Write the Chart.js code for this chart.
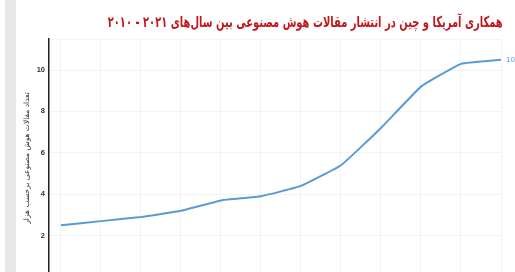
<!DOCTYPE html>
<html>
<head>
<meta charset="utf-8">
<script src="https://cdn.jsdelivr.net/npm/chart.js@4"></script>
<style>
  html, body { margin:0; padding:0; width:515px; height:272px; overflow:hidden; background:#fff; }
  #stripe { position:absolute; left:5px; top:0; width:11px; height:272px; background:#e6e7e9; }
  #title { position:absolute; right:12px; top:13px; direction:rtl; white-space:nowrap;
           font-family:"DejaVu Sans", sans-serif; font-weight:bold; font-size:15px; line-height:18px; color:#c4161c;
           transform-origin: right center; }
  #wrap { position:absolute; left:0; top:0; width:515px; height:300px; }
</style>
</head>
<body>
<div id="stripe"></div>
<div id="wrap"><canvas id="c" width="515" height="300"></canvas></div>
<div id="title">همکاری آمریکا و چین در انتشار مقالات هوش مصنوعی بین سال‌های ۲۰۲۱ - ۲۰۱۰</div>
<script>
const years = [2010, 2011, 2012, 2013, 2014, 2015, 2016, 2017, 2018, 2019, 2020, 2021];
const papers = [2.5, 2.7, 2.9, 3.2, 3.7, 3.9, 4.4, 5.4, 7.2, 9.2, 10.3, 10.5];
const yTicks = [2, 4, 6, 8, 10];
const yTitle = "تعداد مقالات هوش مصنوعی برحسب هزار";
const endLabel = "10.5";

// fit title to the reference width
const t = document.getElementById('title');
const tw = t.getBoundingClientRect().width;
t.style.transform = 'scaleX(' + (395 / tw) + ')';

const endLabelPlugin = {
  id: 'endLabel',
  afterDatasetsDraw(chart) {
    const meta = chart.getDatasetMeta(0);
    const p = meta.data[meta.data.length - 1];
    const ctx = chart.ctx;
    ctx.save();
    ctx.font = '8px "Liberation Sans", Arial, sans-serif';
    ctx.fillStyle = '#5b9bd5';
    ctx.textAlign = 'left';
    ctx.textBaseline = 'middle';
    ctx.fillText(endLabel, p.x + 5, p.y);
    ctx.restore();
  }
};

new Chart(document.getElementById('c'), {
  type: 'line',
  data: {
    datasets: [{
      data: years.map((y, i) => ({ x: y, y: papers[i] })),
      borderColor: '#5b9bd5',
      borderWidth: 2,
      pointRadius: 0,
      tension: 0.1,
      fill: false
    }]
  },
  options: {
    responsive: false,
    animation: false,
    layout: { padding: { top: 39, right: 14, bottom: 23, left: 0 } },
    plugins: { legend: { display: false }, tooltip: { enabled: false } },
    scales: {
      x: {
        type: 'linear',
        min: 2009.7,
        max: 2021,
        afterBuildTicks: s => { s.ticks = years.map(v => ({ value: v })); },
        afterFit: s => { s.height = 0; },
        ticks: { display: false },
        grid: { color: '#f3f3f3', lineWidth: 1, drawTicks: false },
        border: { display: false }
      },
      y: {
        min: 0,
        max: 11.5,
        afterBuildTicks: s => { s.ticks = yTicks.concat([11.5]).map(v => ({ value: v })); },
        afterFit: s => { s.width = 49; },
        ticks: {
          padding: 4,
          color: '#333',
          font: { family: '"Liberation Sans", Arial, sans-serif', size: 7.5, weight: 'bold' },
          callback: v => (yTicks.includes(v) ? String(v) : '')
        },
        grid: { color: '#f3f3f3', lineWidth: 1, drawTicks: false },
        border: { display: true, color: '#222', width: 1.5 },
        title: {
          display: true,
          text: yTitle,
          color: '#333',
          font: { family: '"DejaVu Sans", sans-serif', size: 7.5, lineHeight: 1.2 },
          padding: { top: 23, bottom: 0 }
        }
      }
    }
  },
  plugins: [endLabelPlugin]
});
</script>
</body>
</html>
